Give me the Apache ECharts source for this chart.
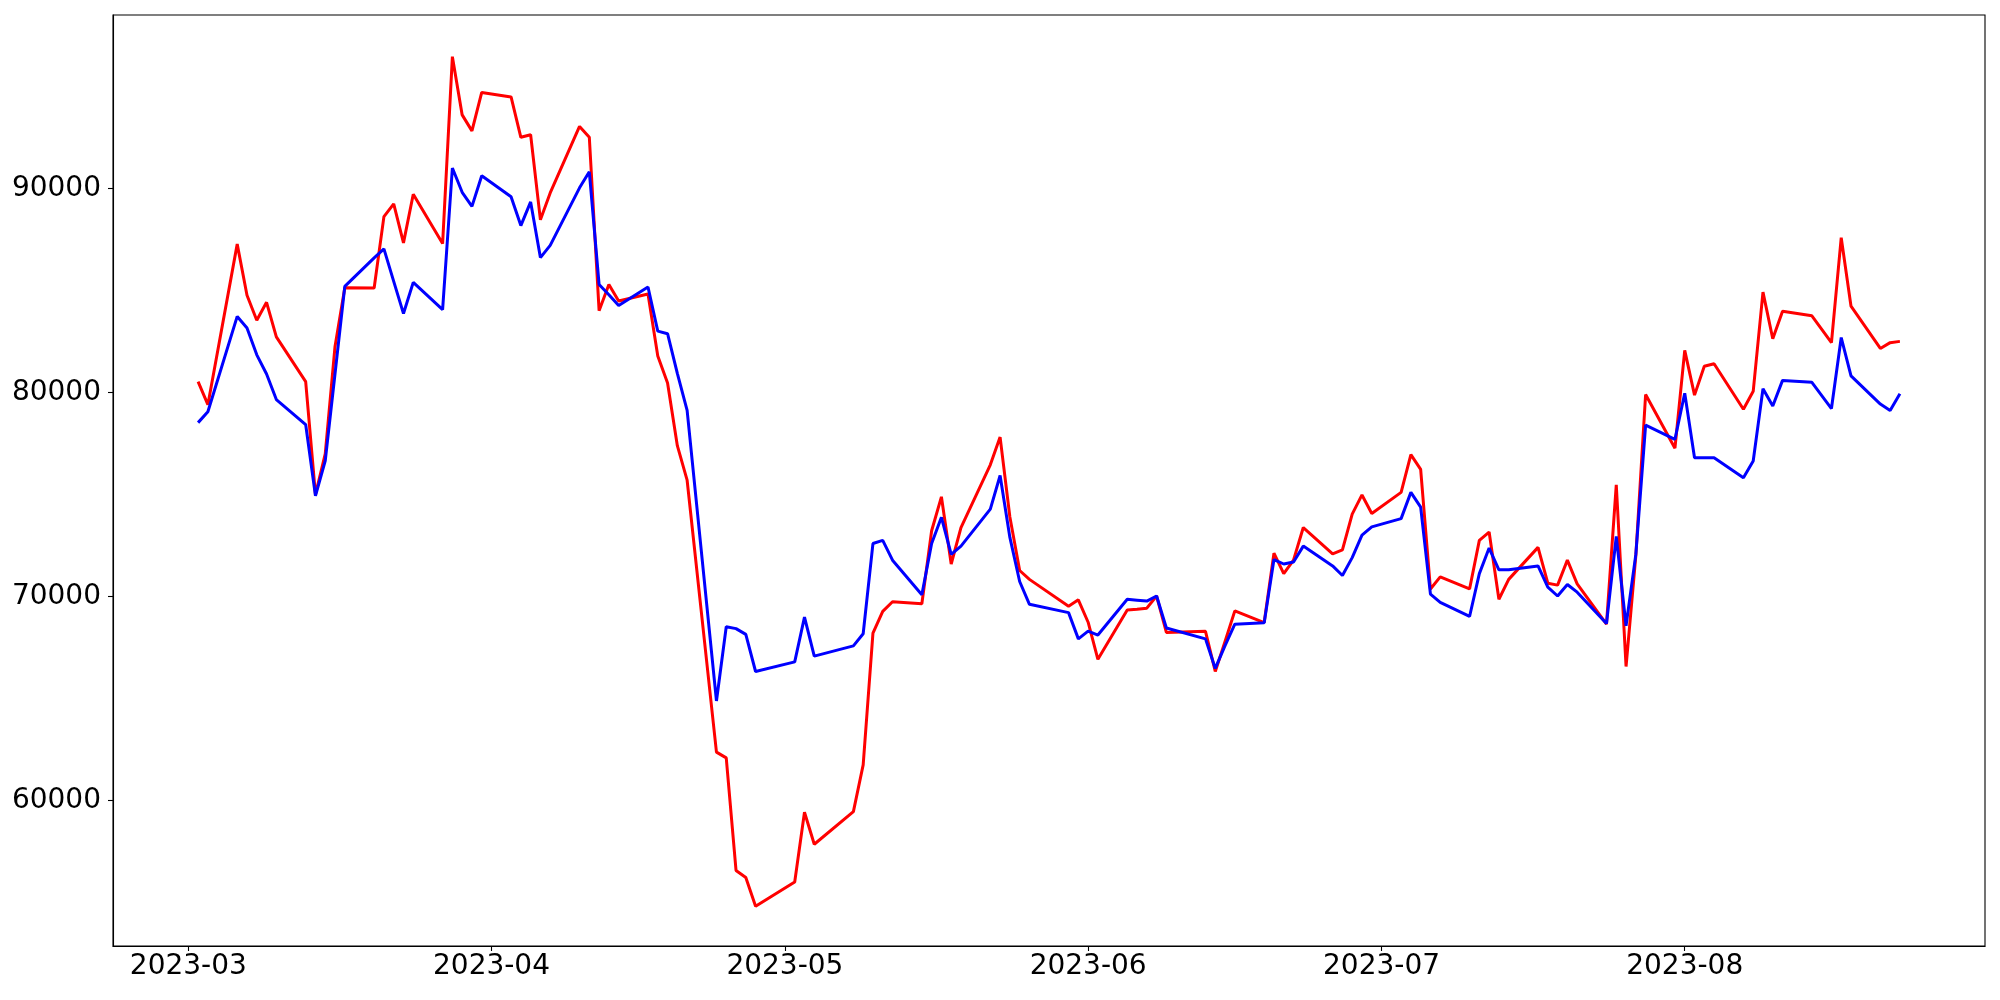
<!DOCTYPE html>
<html>
<head>
<meta charset="utf-8">
<script src="https://cdn.jsdelivr.net/npm/echarts@6/dist/echarts.min.js"></script>
<style>
  html, body { margin: 0; padding: 0; background: #fff; }
  #main { width: 2000px; height: 1000px; }
</style>
</head>
<body>
<div id="main"></div>
<script>
// trading days
var dates = [
  '2023-03-02', '2023-03-03', '2023-03-06', '2023-03-07', '2023-03-08', '2023-03-09', '2023-03-10',
  '2023-03-13', '2023-03-14', '2023-03-15', '2023-03-16', '2023-03-17',
  '2023-03-20', '2023-03-21', '2023-03-22', '2023-03-23', '2023-03-24',
  '2023-03-27', '2023-03-28', '2023-03-29', '2023-03-30', '2023-03-31',
  '2023-04-03', '2023-04-04', '2023-04-05', '2023-04-06', '2023-04-07',
  '2023-04-10', '2023-04-11', '2023-04-12', '2023-04-13', '2023-04-14',
  '2023-04-17', '2023-04-18', '2023-04-19', '2023-04-20', '2023-04-21',
  '2023-04-24', '2023-04-25', '2023-04-26', '2023-04-27', '2023-04-28',
  '2023-05-02', '2023-05-03', '2023-05-04',
  '2023-05-08', '2023-05-09', '2023-05-10', '2023-05-11', '2023-05-12',
  '2023-05-15', '2023-05-16', '2023-05-17', '2023-05-18', '2023-05-19',
  '2023-05-22', '2023-05-23', '2023-05-24', '2023-05-25', '2023-05-26',
  '2023-05-30', '2023-05-31', '2023-06-01', '2023-06-02',
  '2023-06-05', '2023-06-06', '2023-06-07', '2023-06-08', '2023-06-09',
  '2023-06-13', '2023-06-14', '2023-06-15', '2023-06-16',
  '2023-06-19', '2023-06-20', '2023-06-21', '2023-06-22', '2023-06-23',
  '2023-06-26', '2023-06-27', '2023-06-28', '2023-06-29', '2023-06-30',
  '2023-07-03', '2023-07-04', '2023-07-05', '2023-07-06', '2023-07-07',
  '2023-07-10', '2023-07-11', '2023-07-12', '2023-07-13', '2023-07-14',
  '2023-07-17', '2023-07-18', '2023-07-19', '2023-07-20', '2023-07-21',
  '2023-07-24', '2023-07-25', '2023-07-26', '2023-07-27', '2023-07-28',
  '2023-07-31', '2023-08-01', '2023-08-02', '2023-08-03', '2023-08-04',
  '2023-08-07', '2023-08-08', '2023-08-09', '2023-08-10', '2023-08-11',
  '2023-08-14', '2023-08-16', '2023-08-17', '2023-08-18',
  '2023-08-21', '2023-08-22', '2023-08-23'
]

var redValues = [
  80532, 79404, 87273, 84765, 83542, 84420, 82727,
  80532, 75000, 77000, 82260, 85130,
  85120, 88620, 89248, 87335, 89718,
  87300, 96458, 93605, 92822, 94703,
  94483, 92508, 92633, 88464, 89780,
  93041, 92508, 84012, 85298, 84482,
  84827, 81786, 80470, 77397, 75704,
  62380, 62098, 56581, 56236, 54825,
  56017, 59434, 57867,
  59465, 61753, 68211, 69277, 69748,
  69654, 73228, 74890, 71598, 73385,
  76461, 77817, 73900, 71280, 70845,
  69528, 69842, 68745, 66926,
  69340, 69380, 69434, 70030, 68243,
  68300, 66330, 67800, 69300,
  68730, 72131, 71127, 71786, 73385,
  72099, 72287, 74042, 74983, 74074,
  75109, 76958, 76237, 70375, 70970,
  70375, 72758, 73165, 69873, 70845,
  72413, 70657, 70563, 71786, 70626,
  68650, 75480, 66574, 72005, 79905,
  77272, 82068, 79874, 81285, 81410,
  79184, 80062, 84921, 82633, 83981,
  83762, 82445, 87586, 84232,
  82162, 82445, 82507
]

var blueValues = [
  78526, 79059, 83730, 83166, 81849, 80908, 79655,
  78432, 74940, 76650, 80920, 85200,
  86600, 87040, 85450, 83870, 85400,
  84060, 91003, 89812, 89122, 90627,
  89592, 88182, 89342, 86614, 87210,
  90031, 90815, 85298, 84796, 84263,
  85172, 83009, 82883, 80940, 79122,
  64888, 68525, 68431, 68149, 66331,
  66801, 68996, 67083,
  67585, 68180, 72601, 72757, 71786,
  70093, 72601, 73886, 72068, 72475,
  74289, 75936, 72900, 70740, 69622,
  69215, 67930, 68306, 68118,
  69874, 69827, 69780, 70030, 68462,
  67930, 66480, 67600, 68650,
  68714, 71818, 71598, 71692, 72475,
  71504, 71033, 71911, 73009, 73416,
  73823, 75109, 74388, 70124, 69717,
  69027, 71127, 72381, 71315, 71315,
  71504, 70469, 70030, 70594, 70218,
  68680, 72946, 68570, 72068, 78400,
  77710, 79968, 76802, 76802, 76802,
  75830, 76645, 80188, 79341, 80595,
  80501, 79216, 82696, 80815,
  79435, 79122, 79937
]

var monthTicks = ['2023-03', '2023-04', '2023-05', '2023-06', '2023-07', '2023-08']
var yTicks = [60000, 70000, 80000, 90000]

var chartDom = document.getElementById('main')
var myChart = echarts.init(chartDom)

function toTime(s) {
  var p = s.split('-')
  return Date.UTC(+p[0], +p[1] - 1, p[2] ? +p[2] : 1)
}

// 5% padding on both ends of the date range
var t0 = toTime(dates[0])
var t1 = toTime(dates[dates.length - 1])
var pad = (t1 - t0) * 0.05
var monthValues = monthTicks.map(toTime)

function pairs(values) {
  return dates.map(function (d, i) {
    return [toTime(d), values[i]]
  })
}

var font = 'DejaVu Sans'

var option = {
  animation: false,
  grid: {
    left: 113,
    right: 15,
    top: 15,
    bottom: 54,
    show: true,
    borderColor: '#000',
    borderWidth: 1.1,
  },
  // dates are kept as timestamps on a value axis, labelled at each month start
  xAxis: {
    type: 'value',
    min: t0 - pad,
    max: t1 + pad,
    axisLine: { show: true, onZero: false, lineStyle: { color: '#000', width: 1.1 } },
    axisTick: {
      show: true,
      length: 5,
      customValues: monthValues,
      lineStyle: { color: '#000', width: 1.1 },
    },
    axisLabel: {
      customValues: monthValues,
      formatter: function (val) {
        var i = monthValues.indexOf(val)
        return i >= 0 ? monthTicks[i] : ''
      },
      fontFamily: font,
      fontSize: 28,
      color: '#000',
      margin: 7,
      showMinLabel: true,
      showMaxLabel: true,
    },
    splitLine: { show: false },
  },
  yAxis: {
    type: 'value',
    min: 52880,
    max: 98500,
    axisLine: { show: true, onZero: false, lineStyle: { color: '#000', width: 1.1 } },
    axisTick: {
      show: true,
      length: 5,
      customValues: yTicks,
      lineStyle: { color: '#000', width: 1.1 },
    },
    axisLabel: {
      customValues: yTicks,
      formatter: function (val) {
        return String(val)
      },
      fontFamily: font,
      fontSize: 28,
      color: '#000',
      margin: 12,
    },
    splitLine: { show: false },
  },
  series: [
    {
      name: 'red',
      type: 'line',
      data: pairs(redValues),
      showSymbol: false,
      lineStyle: { color: '#ff0000', width: 3 },
      itemStyle: { color: '#ff0000' },
    },
    {
      name: 'blue',
      type: 'line',
      data: pairs(blueValues),
      showSymbol: false,
      lineStyle: { color: '#0000ff', width: 3 },
      itemStyle: { color: '#0000ff' },
    },
  ],
}

option && myChart.setOption(option)
</script>
</body>
</html>
